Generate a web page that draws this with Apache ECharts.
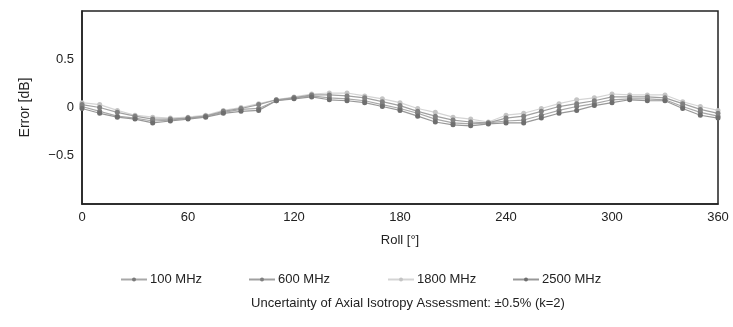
<!DOCTYPE html>
<html>
<head>
<meta charset="utf-8">
<script src="https://cdn.jsdelivr.net/npm/echarts@6/dist/echarts.min.js"></script>
<style>
html,body{margin:0;padding:0;background:#fff;}
#c{width:733px;height:327px;}
</style>
</head>
<body>
<div id="c"></div>
<script>
const roll = [0,10,20,30,40,50,60,70,80,90,100,110,120,130,140,150,160,170,180,190,200,210,220,230,240,250,260,270,280,290,300,310,320,330,340,350,360];
const seriesNames = ['100 MHz','600 MHz','1800 MHz','2500 MHz'];
const mhz100  = [0.01,-0.04,-0.09,-0.11,-0.14,-0.13,-0.11,-0.09,-0.05,-0.02,-0.01,0.07,0.10,0.12,0.10,0.09,0.07,0.03,-0.01,-0.06,-0.12,-0.16,-0.17,-0.16,-0.14,-0.13,-0.08,-0.03,0.01,0.04,0.08,0.09,0.09,0.08,0.01,-0.05,-0.09];
const mhz600  = [0.03,0.00,-0.05,-0.09,-0.12,-0.12,-0.11,-0.09,-0.04,-0.01,0.03,0.08,0.10,0.13,0.13,0.12,0.10,0.06,0.02,-0.04,-0.09,-0.13,-0.15,-0.16,-0.11,-0.09,-0.04,0.01,0.04,0.07,0.11,0.11,0.11,0.10,0.04,-0.02,-0.06];
const mhz1800 = [0.05,0.03,-0.03,-0.08,-0.10,-0.11,-0.10,-0.08,-0.03,0.00,0.04,0.08,0.11,0.14,0.15,0.15,0.12,0.09,0.05,-0.01,-0.05,-0.10,-0.12,-0.15,-0.08,-0.06,-0.01,0.04,0.08,0.10,0.14,0.13,0.13,0.13,0.06,0.01,-0.03];
const mhz2500 = [-0.01,-0.06,-0.10,-0.12,-0.16,-0.14,-0.12,-0.10,-0.06,-0.04,-0.03,0.07,0.09,0.11,0.08,0.07,0.05,0.01,-0.03,-0.09,-0.15,-0.18,-0.19,-0.17,-0.16,-0.16,-0.11,-0.06,-0.03,0.02,0.05,0.08,0.07,0.07,-0.01,-0.08,-0.11];
const xTicks = [0,60,120,180,240,300,360];
const yTicks = [-0.5,0,0.5];

const values = [mhz100, mhz600, mhz1800, mhz2500];
const lineColors = ['#a8a8a8','#a0a0a0','#d4d4d4','#989898'];
const markColors = ['#7a7a7a','#808080','#c4c4c4','#6e6e6e'];
const legendLeft = [115, 243, 382, 507];

const FONT = '"Liberation Sans", Arial, sans-serif';
const chart = echarts.init(document.getElementById('c'), null, {renderer:'canvas'});

const series = values.map((v, i) => ({
  name: seriesNames[i],
  type: 'line',
  data: roll.map((r, j) => [r, v[j]]),
  symbol: 'circle',
  symbolSize: 5,
  lineStyle: {color: lineColors[i], width: 1.2},
  itemStyle: {color: markColors[i]},
  emphasis: {disabled: true},
  z: i === 2 ? 1 : 2
}));

const legends = seriesNames.map((n, i) => ({
  data: [{name: n, itemStyle: {color: markColors[i]}, lineStyle: {color: lineColors[i]}}],
  left: legendLeft[i],
  top: 268,
  itemWidth: 26,
  itemHeight: 5,
  itemGap: 4,
  textStyle: {fontFamily: FONT, fontSize: 13, color: '#222', padding: [0,0,0,-2]},
  selectedMode: false
}));

chart.setOption({
  animation: false,
  backgroundColor: '#fff',
  grid: {left: 82, right: 15, top: 11, bottom: 123, show: true, borderColor: '#222', borderWidth: 1.5, backgroundColor: '#fff'},
  legend: legends,
  title: {
    text: 'Uncertainty of Axial Isotropy Assessment: ±0.5% (k=2)',
    left: 403, top: 292, textAlign: 'center',
    textStyle: {fontFamily: FONT, fontSize: 13, fontWeight: 'normal', color: '#222'}
  },
  xAxis: {
    type: 'value', min: 0, max: 360, interval: 60,
    name: 'Roll [°]', nameLocation: 'middle', nameGap: 30,
    nameTextStyle: {fontFamily: FONT, fontSize: 13, color: '#222'},
    axisLine: {show: true, onZero: false, lineStyle: {color: '#222', width: 1.5}},
    axisTick: {show: false},
    splitLine: {show: false},
    axisLabel: {fontFamily: FONT, fontSize: 13, color: '#222', margin: 7,
      formatter: v => xTicks.includes(v) ? String(v) : ''}
  },
  yAxis: {
    type: 'value', min: -1, max: 1, interval: 0.5,
    name: 'Error [dB]', nameLocation: 'middle', nameGap: 50, nameRotate: 90,
    nameTextStyle: {fontFamily: FONT, fontSize: 14, color: '#222'},
    axisLine: {show: true, onZero: false, lineStyle: {color: '#222', width: 1.5}},
    axisTick: {show: false},
    splitLine: {show: false},
    axisLabel: {fontFamily: FONT, fontSize: 13, color: '#222', margin: 8,
      formatter: v => yTicks.includes(v) ? (v < 0 ? '\u2212' + Math.abs(v) : String(v)) : ''}
  },
  series: series
});
</script>
</body>
</html>
